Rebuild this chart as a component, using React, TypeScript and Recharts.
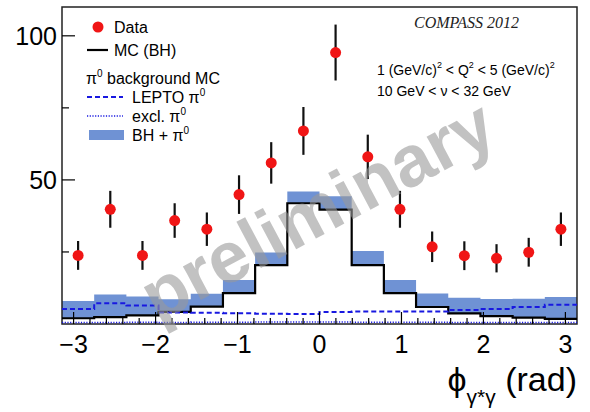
import React from 'react';
import { ComposedChart, Line, Area, Scatter, ErrorBar, XAxis, YAxis, ReferenceArea } from 'recharts';

// 16 bins in phi from -pi to pi
const binEdges = [-3.1416, -2.7489, -2.3562, -1.9635, -1.5708, -1.1781, -0.7854, -0.3927, 0, 0.3927, 0.7854, 1.1781, 1.5708, 1.9635, 2.3562, 2.7489, 3.1416];
const binCenters = [-2.9452, -2.5525, -2.1598, -1.7671, -1.3744, -0.9817, -0.589, -0.1963, 0.1963, 0.589, 0.9817, 1.3744, 1.7671, 2.1598, 2.5525, 2.9452];

const dataCounts = [23.8, 39.8, 23.8, 35.9, 32.9, 44.9, 55.9, 67.0, 94.2, 58.0, 39.8, 26.8, 23.7, 22.8, 24.9, 32.9];
const dataErrors = [5.0, 6.4, 5.0, 6.0, 5.8, 6.7, 7.2, 8.3, 9.7, 7.7, 6.4, 5.3, 5.0, 4.9, 5.0, 5.8];
const mcBH = [2.0, 2.4, 3.0, 4.2, 6.0, 10.7, 20.4, 41.9, 39.7, 20.4, 10.7, 5.9, 3.7, 2.7, 2.2, 1.8];
const bhPlusPi0 = [8.0, 10.2, 9.5, 8.6, 10.5, 15.3, 24.8, 46.0, 44.3, 25.3, 15.3, 10.6, 9.1, 8.7, 8.8, 9.4];
const leptoPi0 = [5.2, 7.2, 6.4, 4.0, 3.9, 3.7, 3.6, 3.5, 4.2, 4.3, 4.3, 4.3, 4.9, 5.2, 5.9, 6.7];
const exclPi0 = [0.5, 0.5, 0.6, 0.5, 0.6, 0.6, 0.7, 0.7, 0.7, 0.6, 0.6, 0.6, 0.5, 0.5, 0.5, 0.5];

const xTicks = [-3, -2.8, -2.6, -2.4, -2.2, -2, -1.8, -1.6, -1.4, -1.2, -1, -0.8, -0.6, -0.4, -0.2, 0, 0.2, 0.4, 0.6, 0.8, 1, 1.2, 1.4, 1.6, 1.8, 2, 2.2, 2.4, 2.6, 2.8, 3];
const yTicks = [25, 50, 75, 100];
const yLabelled = [50, 100];

const histRows = binEdges.map((x, i) => {
  const b = Math.min(i, mcBH.length - 1);
  return { x, bh: mcBH[b], band: [mcBH[b], bhPlusPi0[b]], lepto: leptoPi0[b], excl: exclPi0[b] };
});
const points = binCenters.map((x, i) => ({ x, y: dataCounts[i], err: dataErrors[i] }));

const FONT = '"Liberation Sans", Arial, Helvetica, sans-serif';
const BAND = '#6f92d4';
const BLUE = '#1818e0';

const XTick = (props: any) => {
  const { x, y, payload } = props;
  const v = payload.value;
  const major = Math.abs(v - Math.round(v)) < 1e-6;
  return (
    <g>
      <line x1={x} x2={x} y1={y} y2={y - (major ? 12 : 6)} stroke="#000" strokeWidth={1.2} />
      {major && (
        <text x={x} y={y + 29} textAnchor="middle" fontSize={25} fontFamily={FONT} fill="#000">
          {v < 0 ? '\u2212' + Math.abs(Math.round(v)) : String(Math.round(v))}
        </text>
      )}
    </g>
  );
};

const YTick = (props: any) => {
  const { x, y, payload } = props;
  const v = payload.value;
  const major = yLabelled.includes(v);
  return (
    <g>
      <line x1={x} x2={x + (major ? 13 : 7)} y1={y} y2={y} stroke="#000" strokeWidth={1.2} />
      {major && (
        <text x={x - 5} y={y + 9} textAnchor="end" fontSize={25} fontFamily={FONT} fill="#000">
          {v}
        </text>
      )}
    </g>
  );
};

const DataDot = (props: any) => {
  const { cx, cy } = props;
  return <circle cx={cx} cy={cy} r={5.5} fill="#f01515" />;
};
const NoDot = () => <g />;

const Sup = ({ children, size = 10 }: { children: React.ReactNode; size?: number }) => (
  <tspan dy={-7} fontSize={size}>{children}</tspan>
);

export default function App() {
  return (
    <div style={{ position: 'absolute', left: 0, top: 0, width: 590, height: 412, background: '#fff' }}>
      <ComposedChart width={590} height={412} data={histRows} margin={{ top: 7, right: 13, left: 0, bottom: 0 }}>
        <XAxis
          dataKey="x"
          type="number"
          domain={[-Math.PI, Math.PI]}
          allowDataOverflow
          ticks={xTicks}
          interval={0}
          height={88}
          tickSize={0}
          tickMargin={0}
          axisLine={false}
          tickLine={false}
          tick={<XTick />}
        />
        <YAxis
          type="number"
          domain={[0, 110]}
          allowDataOverflow
          ticks={yTicks}
          interval={0}
          width={62}
          tickSize={0}
          tickMargin={0}
          axisLine={false}
          tickLine={false}
          tick={<YTick />}
        />
        <Area dataKey="band" type="stepAfter" fill={BAND} fillOpacity={1} stroke="none" isAnimationActive={false} />
        <Line dataKey="bh" type="stepAfter" stroke="#000" strokeWidth={2.2} dot={false} isAnimationActive={false} />
        <Line dataKey="lepto" type="stepAfter" stroke={BLUE} strokeWidth={2} strokeDasharray="5 3" dot={false} isAnimationActive={false} />
        <Line dataKey="excl" type="stepAfter" stroke={BLUE} strokeWidth={1.6} strokeDasharray="1.2 1.5" dot={false} isAnimationActive={false} />
        {/* error bars first, markers drawn on top */}
        <Scatter data={points} dataKey="y" shape={<NoDot />} isAnimationActive={false}>
          <ErrorBar dataKey="err" direction="y" width={0} stroke="#111" strokeWidth={2.2} />
        </Scatter>
        <Scatter data={points} dataKey="y" shape={<DataDot />} isAnimationActive={false} />
        <ReferenceArea x1={-Math.PI} x2={Math.PI} y1={0} y2={110} fill="none" stroke="#222" strokeWidth={1.5} />
      </ComposedChart>

      <svg width={590} height={412} style={{ position: 'absolute', left: 0, top: 0, pointerEvents: 'none' }}>
        {/* legend */}
        <g fontFamily={FONT} fontSize={16} fill="#000">
          <circle cx={98} cy={27} r={5.5} fill="#f01515" />
          <text x={114} y={33}>Data</text>
          <line x1={87} x2={108} y1={50} y2={50} stroke="#000" strokeWidth={2.2} />
          <text x={114} y={56}>MC (BH)</text>
          <text x={86} y={84}>π<Sup>0</Sup><tspan dy={7}> background MC</tspan></text>
          <line x1={87} x2={123} y1={97} y2={97} stroke={BLUE} strokeWidth={2} strokeDasharray="5 3" />
          <text x={132} y={103}>LEPTO π<Sup>0</Sup></text>
          <line x1={87} x2={123} y1={116} y2={116} stroke={BLUE} strokeWidth={1.6} strokeDasharray="1.2 1.5" />
          <text x={132} y={122}>excl. π<Sup>0</Sup></text>
          <rect x={89} y={130} width={35} height={10} fill={BAND} />
          <text x={132} y={141}>BH + π<Sup>0</Sup></text>
        </g>
        {/* annotations */}
        <text x={414} y={28} fontFamily='"Liberation Serif", "Times New Roman", serif' fontStyle="italic" fontSize={16} fill="#222">
          COMPASS 2012
        </text>
        <g fontFamily={FONT} fontSize={14} fill="#000">
          <text x={377} y={75}>
            1 (GeV/c)<Sup size={9}>2</Sup><tspan dy={7}> &lt; Q</tspan><Sup size={9}>2</Sup><tspan dy={7}> &lt; 5 (GeV/c)</tspan><Sup size={9}>2</Sup>
          </text>
          <text x={377} y={96}>10 GeV &lt; ν &lt; 32 GeV</text>
        </g>
        {/* axis title */}
        <text x={577} y={391} textAnchor="end" fontFamily={FONT} fontSize={34} fill="#000">
          ϕ<tspan dy={13} fontSize={21}>γ*γ</tspan><tspan dy={-13}> (rad)</tspan>
        </text>
        {/* watermark */}
        <text
          x={320}
          y={234}
          textAnchor="middle"
          fontFamily={FONT}
          fontWeight="bold"
          fontSize={72}
          fill="#999"
          fillOpacity={0.6}
          transform="rotate(-28 320 215)"
        >
          preliminary
        </text>
      </svg>
    </div>
  );
}
